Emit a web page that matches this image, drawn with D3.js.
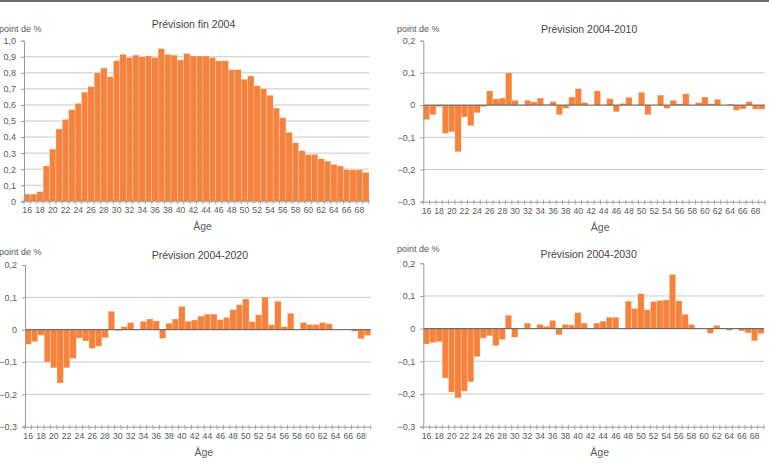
<!DOCTYPE html>
<html>
<head>
<meta charset="utf-8">
<script src="https://cdn.jsdelivr.net/npm/d3@7"></script>
<style>
  body { margin: 0; background: #fff; }
  svg text { font-family: "Liberation Sans", Arial, sans-serif; }
</style>
</head>
<body>
<script>
'use strict';

// ages on the x axis
const ages = d3.range(16, 70);

// "Prévision fin 2004", point de %
const fin2004 = [0.045, 0.045, 0.06, 0.22, 0.325, 0.45, 0.51, 0.57, 0.61, 0.68,
  0.715, 0.80, 0.83, 0.775, 0.875, 0.915, 0.895, 0.91, 0.90, 0.905,
  0.895, 0.95, 0.915, 0.91, 0.88, 0.92, 0.905, 0.905, 0.905, 0.895,
  0.875, 0.875, 0.82, 0.82, 0.76, 0.78, 0.72, 0.70, 0.66, 0.58,
  0.52, 0.43, 0.365, 0.315, 0.29, 0.292, 0.265, 0.25, 0.23, 0.22,
  0.197, 0.195, 0.196, 0.18];

// "Prévision 2004-2010"
const prev2010 = [-0.045, -0.03, -0.005, -0.088, -0.083, -0.145, -0.037, -0.064, -0.024, -0.005,
  0.044, 0.019, 0.022, 0.10, 0.015, 0.001, 0.015, 0.01, 0.022, 0.002,
  0.011, -0.03, -0.01, 0.025, 0.051, 0.008, 0, 0.044, 0.001, 0.02,
  -0.021, 0.005, 0.024, 0, 0.04, -0.03, 0, 0.031, -0.01, 0.015,
  0.004, 0.035, -0.001, 0.008, 0.025, 0.004, 0.018, 0, 0.003, -0.016,
  -0.012, 0.011, -0.013, -0.013];

// "Prévision 2004-2020"
const prev2020 = [-0.045, -0.037, -0.017, -0.10, -0.118, -0.165, -0.118, -0.089, -0.026, -0.035,
  -0.058, -0.051, -0.025, 0.057, -0.003, 0.009, 0.022, 0, 0.026, 0.033,
  0.027, -0.027, 0.02, 0.033, 0.072, 0.026, 0.030, 0.042, 0.048, 0.048,
  0.031, 0.038, 0.062, 0.077, 0.095, 0.025, 0.046, 0.101, 0.015, 0.088,
  0.009, 0.051, 0, 0.022, 0.016, 0.016, 0.022, 0.018, 0, 0,
  0, -0.005, -0.028, -0.018];

// "Prévision 2004-2030"
const prev2030 = [-0.047, -0.043, -0.04, -0.151, -0.194, -0.212, -0.191, -0.163, -0.086, -0.029,
  -0.022, -0.052, -0.033, 0.041, -0.026, 0, 0.017, 0, 0.013, 0.007,
  0.025, -0.019, 0.013, 0.011, 0.049, 0.017, 0, 0.017, 0.023, 0.035,
  0.035, 0, 0.084, 0.062, 0.107, 0.058, 0.083, 0.086, 0.088, 0.166,
  0.085, 0.044, 0.013, 0, 0, -0.014, 0.01, 0.002, -0.005, 0,
  -0.007, -0.013, -0.037, -0.015];

// y tick values
const ticksLevel = d3.range(0, 11).map((i) => i / 10);
const ticksDiff = [0.2, 0.1, 0, -0.1, -0.2, -0.3];

const titles = ["Prévision fin 2004", "Prévision 2004-2010", "Prévision 2004-2020", "Prévision 2004-2030"];

(function () {

  const W = 769, H = 464;
  const barColor = "#f7823c";
  const textColor = "#5a5a5a";

  let svg = d3.select("body").append("svg")
    .attr("width", W)
    .attr("height", H);

  // rule across the top of the figure
  svg.append("rect")
    .attr("x", 0).attr("y", 0)
    .attr("width", W).attr("height", 2)
    .attr("fill", "#707070");

  // format "0,1", "−0,1", "1,0"
  function fmt(d) {
    if (Math.abs(d) < 1e-9) return "0";
    let s = d3.format(".1f")(Math.abs(d)).replace(".", ",");
    return (d < 0 ? "\u2212" : "") + s;
  }

  function drawPanel(cfg) {
    let g = svg.append("g");

    let x = d3.scaleBand()
      .domain(ages)
      .range([cfg.left, cfg.right])
      .padding(0);

    let y = d3.scaleLinear()
      .domain(cfg.domain)
      .range([cfg.bottom, cfg.top]);

    // grid lines (inner ticks only)
    g.selectAll(".grid")
      .data(cfg.ticks.filter((t) => t !== cfg.domain[0] && t !== cfg.domain[1] && t !== 0))
      .enter()
      .append("line")
      .attr("x1", cfg.left)
      .attr("x2", cfg.right)
      .attr("y1", (d) => y(d))
      .attr("y2", (d) => y(d))
      .attr("stroke", "#c9c9c9")
      .attr("stroke-width", 1);

    // bars
    g.selectAll(".bar")
      .data(ages.map((a, i) => ({ age: a, v: cfg.values[i] })))
      .enter()
      .append("rect")
      .attr("x", (d) => x(d.age))
      .attr("width", x.bandwidth())
      .attr("y", (d) => Math.min(y(d.v), y(0)))
      .attr("height", (d) => Math.abs(y(d.v) - y(0)))
      .attr("fill", barColor)
      .attr("stroke", "#fff")
      .attr("stroke-width", 0.5)
      .attr("stroke-opacity", 0.45);

    // zero line
    if (cfg.domain[0] < 0) {
      g.append("line")
        .attr("x1", cfg.left).attr("x2", cfg.right)
        .attr("y1", y(0)).attr("y2", y(0))
        .attr("stroke", "#555")
        .attr("stroke-width", 1);
    }

    // y axis
    let yAxis = d3.axisLeft(y)
      .tickValues(cfg.ticks)
      .tickSize(3)
      .tickPadding(5)
      .tickFormat(fmt);
    let ya = g.append("g")
      .attr("transform", "translate(" + cfg.left + ",0)")
      .call(yAxis);
    ya.select(".domain").attr("stroke", "#999");
    ya.selectAll(".tick line").attr("stroke", "#999");
    ya.selectAll(".tick text")
      .attr("fill", textColor)
      .style("font-size", "9px");

    // x axis: labels on even ages
    let xAxis = d3.axisBottom(x)
      .tickValues(ages.filter((a) => a % 2 === 0))
      .tickSize(0)
      .tickPadding(6);
    let xa = g.append("g")
      .attr("transform", "translate(0," + cfg.bottom + ")")
      .call(xAxis);
    xa.select(".domain").attr("stroke", "#999");
    xa.selectAll(".tick text")
      .attr("fill", textColor)
      .style("font-size", "8.7px");

    // small tick at each bar boundary
    let bounds = ages.map((a) => x(a)).concat([cfg.right]);
    g.selectAll(".xtick")
      .data(bounds)
      .enter()
      .append("line")
      .attr("x1", (d) => d).attr("x2", (d) => d)
      .attr("y1", cfg.bottom - 2).attr("y2", cfg.bottom + 3)
      .attr("stroke", "#999")
      .attr("stroke-width", 0.8);

    // labels
    g.append("text")
      .attr("x", (cfg.left + cfg.right) / 2 + cfg.titleDx)
      .attr("y", cfg.titleY)
      .attr("text-anchor", "middle")
      .attr("fill", "#444")
      .style("font-size", "10.5px")
      .text(cfg.title);

    g.append("text")
      .attr("x", cfg.unitX)
      .attr("y", cfg.unitY)
      .attr("fill", textColor)
      .style("font-size", "9px")
      .text("point de %");

    g.append("text")
      .attr("x", (cfg.left + cfg.right) / 2 + 6)
      .attr("y", cfg.bottom + 29)
      .attr("text-anchor", "middle")
      .attr("fill", textColor)
      .style("font-size", "10.5px")
      .text("Âge");
  }

  drawPanel({ values: fin2004, title: titles[0], domain: [0, 1], ticks: ticksLevel,
    left: 24, right: 369, top: 40.7, bottom: 201.3,
    titleDx: -3, titleY: 28, unitX: -1, unitY: 32 });

  drawPanel({ values: prev2010, title: titles[1], domain: [-0.3, 0.2], ticks: ticksDiff,
    left: 423.3, right: 765, top: 40.7, bottom: 201.7,
    titleDx: -5, titleY: 32.5, unitX: 397, unitY: 32 });

  drawPanel({ values: prev2020, title: titles[2], domain: [-0.3, 0.2], ticks: ticksDiff,
    left: 25, right: 370.7, top: 265, bottom: 426.7,
    titleDx: 2, titleY: 259, unitX: -1, unitY: 255 });

  drawPanel({ values: prev2030, title: titles[3], domain: [-0.3, 0.2], ticks: ticksDiff,
    left: 423.3, right: 764, top: 263.3, bottom: 426.7,
    titleDx: -5, titleY: 257.5, unitX: 397, unitY: 252 });

})();
</script>
</body>
</html>
